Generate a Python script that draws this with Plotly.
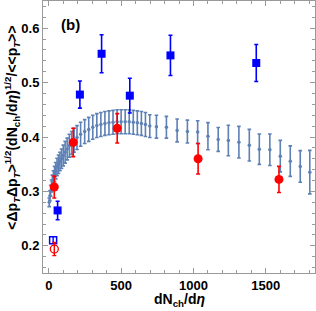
import plotly.graph_objects as go

# Theory band (blue points with error bars)
curve_x = [3, 8, 13, 19, 25, 32, 40, 48, 57, 67, 77, 88, 100, 113, 127, 142, 158, 175, 195, 220,
           248, 276, 304, 332, 360, 388, 416, 444, 472, 500, 528, 556, 584, 612, 640, 668, 698, 744,
           813, 887, 958, 1029, 1100, 1171, 1241, 1314, 1386, 1455, 1528, 1600, 1669, 1738, 1804]
curve_y = [0.280, 0.292, 0.301, 0.310, 0.318, 0.325, 0.332, 0.338, 0.345, 0.350, 0.355, 0.360, 0.366,
           0.372, 0.378, 0.384, 0.389, 0.394, 0.399, 0.405, 0.410, 0.414, 0.418, 0.421, 0.423, 0.425,
           0.426, 0.427, 0.428, 0.428, 0.428, 0.428, 0.427, 0.426, 0.425, 0.423, 0.420, 0.419,
           0.418, 0.412, 0.410, 0.409, 0.4015, 0.3955, 0.3935, 0.3905, 0.385, 0.3776, 0.3765, 0.3648,
           0.3556, 0.3459, 0.3354]
curve_err = [0.008, 0.009, 0.010, 0.011, 0.012, 0.013, 0.014, 0.015, 0.016, 0.017, 0.017, 0.018, 0.019,
             0.020, 0.020, 0.021, 0.021, 0.022, 0.022, 0.022, 0.022, 0.022, 0.022, 0.022, 0.022, 0.022,
             0.022, 0.022, 0.022, 0.022, 0.022, 0.022, 0.022, 0.022, 0.022, 0.022, 0.021, 0.021,
             0.020, 0.021, 0.021, 0.021, 0.025, 0.022, 0.028, 0.029, 0.029, 0.028, 0.029, 0.029,
             0.028, 0.029, 0.040]

# Blue filled squares
sq_x = [61, 215, 365, 560, 841, 1434]
sq_y = [0.265, 0.478, 0.553, 0.476, 0.550, 0.536]
sq_err = [0.017, 0.025, 0.035, 0.032, 0.037, 0.034]

# Blue open square
osq_x = [30]
osq_y = [0.210]
osq_err = [0.006]

# Red filled circles
rc_x = [38, 169, 473, 1032, 1591]
rc_y = [0.308, 0.390, 0.416, 0.360, 0.322]
rc_err = [0.020, 0.026, 0.027, 0.028, 0.024]

# Red open circle
orc_x = [38]
orc_y = [0.194]
orc_err = [0.012]

CURVE = "#5E81B5"
BLUE = "#0000FF"
RED = "#FF0000"

fig = go.Figure()
fig.add_trace(go.Scatter(
    x=curve_x, y=curve_y, mode="markers",
    marker=dict(color=CURVE, size=3.5),
    error_y=dict(type="data", array=curve_err, color=CURVE, thickness=1.6, width=1.8),
    showlegend=False))
fig.add_trace(go.Scatter(
    x=sq_x, y=sq_y, mode="markers",
    marker=dict(color=BLUE, size=8, symbol="square"),
    error_y=dict(type="data", array=sq_err, color=BLUE, thickness=1.6, width=2),
    showlegend=False))
fig.add_trace(go.Scatter(
    x=osq_x, y=osq_y, mode="markers",
    marker=dict(color=BLUE, size=7, symbol="square-open", line=dict(width=1.5)),
    error_y=dict(type="data", array=osq_err, color=BLUE, thickness=1.4, width=0),
    showlegend=False))
fig.add_trace(go.Scatter(
    x=rc_x, y=rc_y, mode="markers",
    marker=dict(color=RED, size=9, symbol="circle"),
    error_y=dict(type="data", array=rc_err, color=RED, thickness=1.6, width=2),
    showlegend=False))
fig.add_trace(go.Scatter(
    x=orc_x, y=orc_y, mode="markers",
    marker=dict(color=RED, size=8, symbol="circle-open", line=dict(width=1.3)),
    error_y=dict(type="data", array=orc_err, color=RED, thickness=1.4, width=2),
    showlegend=False))

axis_common = dict(
    showline=True, linecolor="#9a9a9a", linewidth=1, mirror="allticks",
    ticks="inside", ticklen=5, tickcolor="#9a9a9a", tickwidth=1,
    showgrid=False, zeroline=False, automargin=False,
    tickfont=dict(family="Liberation Sans", size=13, color="black", weight="bold"),
)

fig.update_layout(
    width=316, height=311,
    margin=dict(l=43, r=1, t=1, b=38),
    paper_bgcolor="white", plot_bgcolor="white",
    xaxis=dict(range=[-40, 1840], tickvals=[0, 500, 1000, 1500],
               minor=dict(ticks="inside", dtick=100, tick0=0, ticklen=3, tickcolor="#9a9a9a"),
               **axis_common),
    yaxis=dict(range=[0.15, 0.65], tick0=0.2, dtick=0.1,
               minor=dict(ticks="inside", dtick=0.02, tick0=0.2, ticklen=3, tickcolor="#9a9a9a"),
               **axis_common),
    annotations=[
        dict(text="&lt;Δp<sub><i>T</i></sub>Δp<sub><i>T</i></sub>&gt;<sup>1/2</sup>(dN<sub>ch</sub>/d<i>η</i>)<sup>1/2</sup>/&lt;&lt;p<sub><i>T</i></sub>&gt;&gt;",
             textangle=-90, xref="paper", yref="paper", x=-0.113, y=0.535,
             xanchor="center", yanchor="middle", showarrow=False,
             font=dict(family="Liberation Sans", size=14, color="black", weight="bold")),
        dict(text="dN<sub>ch</sub>/d<i>η</i>", xref="paper", yref="paper",
             x=0.5, y=-0.099, xanchor="center", yanchor="middle", showarrow=False,
             font=dict(family="Liberation Sans", size=14, color="black", weight="bold")),
        dict(text="(b)", xref="paper", yref="paper", x=0.06, y=0.912,
             xanchor="left", yanchor="middle", showarrow=False,
             font=dict(family="Liberation Sans", size=15, color="black", weight="bold")),
    ],
)

fig.write_html("out.html", config={"displayModeBar": False},
               post_script="document.body.style.margin='0';")
